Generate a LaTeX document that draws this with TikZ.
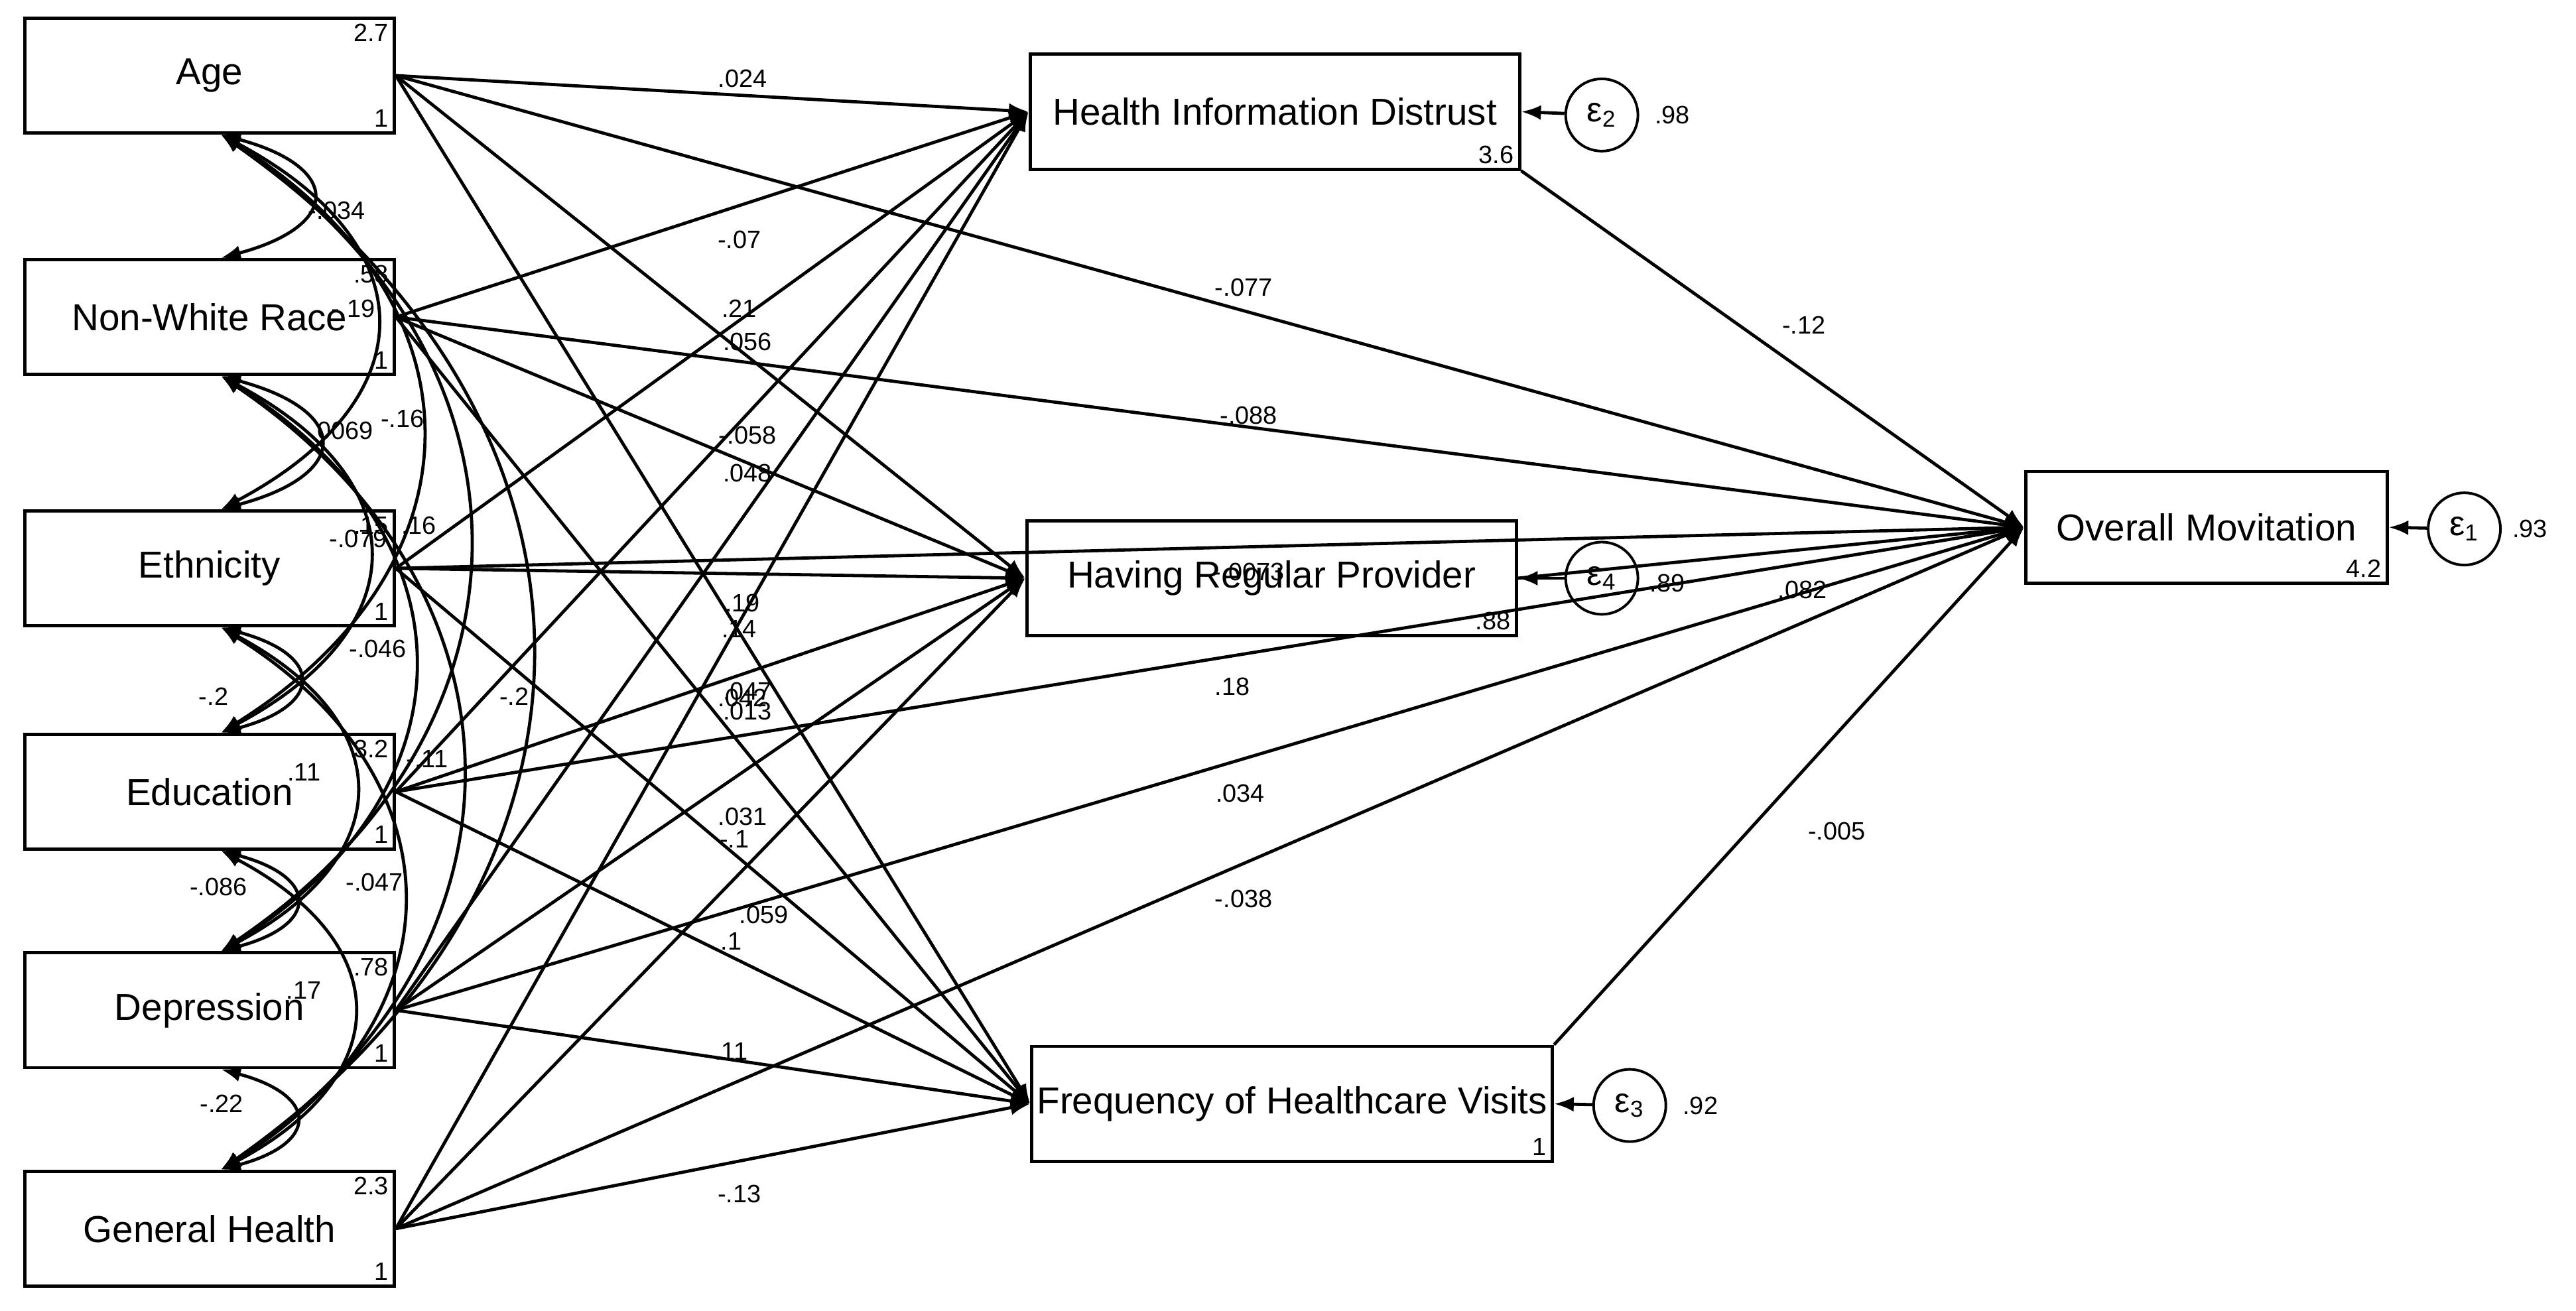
\documentclass[tikz,border=0pt]{standalone}
\usepackage{fontspec}
\setmainfont{Liberation Sans}
\usetikzlibrary{arrows.meta}

\begin{document}
\begin{tikzpicture}[x=0.02cm, y=-0.02cm, line width=1.1pt,
	var/.style={draw, rectangle, minimum height=1.4cm, inner sep=0pt, font=\fontsize{13}{15}\selectfont},
	err/.style={draw, circle, minimum size=0.88cm, inner sep=0pt, line width=0.9pt, font=\fontsize{12}{14}\selectfont},
	path/.style={-{Latex[length=2.4mm, width=1.8mm]}},
	cov/.style={{Latex[length=2.4mm, width=1.8mm]}-{Latex[length=2.4mm, width=1.8mm]}},
	lbl/.style={font=\fontsize{8.7}{10}\selectfont, inner sep=0pt},
	crn/.style={font=\fontsize{8.7}{10}\selectfont, inner sep=2pt}]

	\useasboundingbox (0,0) rectangle (1568,798);

	\def\wleft{4.5cm}

	% exogenous variables
	\node[var, minimum width=\wleft] (age)  at (127.5,46)  {Age};
	\node[var, minimum width=\wleft] (race) at (127.5,193) {Non-White Race};
	\node[var, minimum width=\wleft] (eth)  at (127.5,346) {Ethnicity};
	\node[var, minimum width=\wleft] (edu)  at (127.5,482) {Education};
	\node[var, minimum width=\wleft] (dep)  at (127.5,615) {Depression};
	\node[var, minimum width=\wleft] (gh)   at (127.5,748) {General Health};

	% mediators and outcome
	\node[var, minimum width=5.96cm] (hid) at (776,68)   {Health Information Distrust};
	\node[var, minimum width=5.96cm] (hrp) at (774,352)  {Having Regular Provider};
	\node[var, minimum width=6.34cm] (fhv) at (786.5,672) {Frequency of Healthcare Visits};
	\node[var, minimum width=4.4cm, minimum height=1.36cm] (om) at (1343,321) {Overall Movitation};

	% errors
	\node[err] (e2) at (975,70)   {ε\textsubscript{2}};
	\node[err] (e4) at (975,352)  {ε\textsubscript{4}};
	\node[err] (e3) at (992,673)  {ε\textsubscript{3}};
	\node[err] (e1) at (1500,322) {ε\textsubscript{1}};

	% corner values
	\foreach \v/\t/\b in {age/2.7/1, race/.58/1, eth/.15/1, edu/3.2/1, dep/.78/1, gh/2.3/1} {
		\node[crn, anchor=north east] at (\v.north east) {\t};
		\node[crn, anchor=south east] at (\v.south east) {\b};
	}
	\node[crn, anchor=south east] at (hid.south east) {3.6};
	\node[crn, anchor=south east] at (hrp.south east) {.88};
	\node[crn, anchor=south east] at (fhv.south east) {1};
	\node[crn, anchor=south east] at (om.south east) {4.2};

	% paths from exogenous variables
	\foreach \v in {age, race, eth, edu, dep, gh} {
		\draw[path] (\v.east) -- (hid.west);
		\draw[path] (\v.east) -- (hrp.west);
		\draw[path] (\v.east) -- (fhv.west);
		\draw[path] (\v.east) -- (om.west);
	}

	% mediators to outcome
	\draw[path] (hid.south east) -- (om.west);
	\draw[path] (hrp.east) -- (om.west);
	\draw[path] (fhv.north east) -- (om.west);

	% error paths
	\draw[path] (e2) -- (hid.east);
	\draw[path] (e4) -- (hrp.east);
	\draw[path] (e3) -- (fhv.east);
	\draw[path] (e1) -- (om.east);

	% covariances
	\foreach \a/\b/\ang/\lo in {age/race/75/2.6, race/eth/75/2.6, eth/edu/75/2.6, edu/dep/75/2.6, dep/gh/75/2.6,
		age/eth/62/1.6, race/edu/62/1.6, eth/dep/62/1.6, edu/gh/62/1.6,
		age/edu/58/1.35, race/dep/58/1.35, eth/gh/58/1.35,
		age/dep/56/1.25, race/gh/56/1.25,
		age/gh/55/1.25} {
		\draw[cov] ([xshift=0.14cm]\a.south) to[bend left=\ang, looseness=\lo] ([xshift=0.14cm]\b.north);
	}

	% coefficient labels
	\foreach \t/\x/\y in {.024/452/48, -.07/450/146, .21/450/188, .056/455/208, -.058/455/265, .048/455/288,
		.19/452/367, .14/450/383, .047/455/421, .042/452/425, .013/455/433, -.2/313/424,
		.031/452/497, -.1/447/511, .059/465/557, .1/445/573, .11/445/640, -.13/450/727,
		-.077/757/175, -.088/760/253, -.0073/760/348, .18/750/418, .034/755/483, -.038/757/547,
		-.12/1098/198, .082/1097/359, -.005/1118/506,
		.98/1018/70, .89/1015/355, .92/1035/673, .93/1540/322,
		-.034/205/128, -.19/215/188, .0069/208/262, -.16/245/255, .16/255/320, -.079/218/328,
		-.046/230/395, -.2/130/424, .11/185/470, -.11/260/462, -.086/133/540, -.047/228/537,
		.17/185/603, -.22/135/672} {
		\node[lbl] at (\x,\y) {\t};
	}

\end{tikzpicture}
\end{document}
